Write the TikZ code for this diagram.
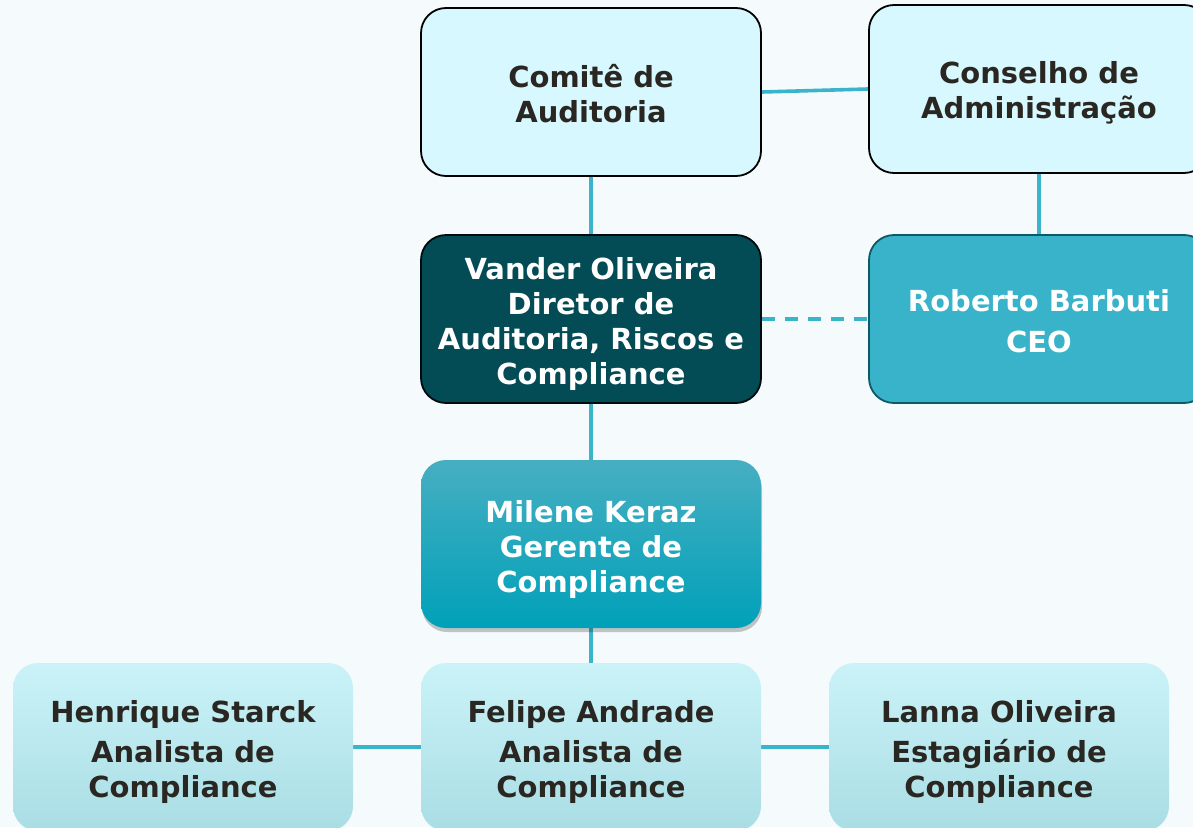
\documentclass[tikz,border=0pt]{standalone}
\usepackage{fontspec}
\setmainfont{DejaVu Sans}
\usetikzlibrary{backgrounds,shadows}
\definecolor{bgc}{HTML}{F5FBFC}
\definecolor{lightbox}{HTML}{D6F8FE}
\definecolor{darkbox}{HTML}{034B55}
\definecolor{ceobox}{HTML}{38B3C9}
\definecolor{ceoborder}{HTML}{0B5A66}
\definecolor{midtop}{HTML}{47AEC1}
\definecolor{midbot}{HTML}{00A1B9}
\definecolor{paletop}{HTML}{CAF3F8}
\definecolor{palebot}{HTML}{A9DDE4}
\definecolor{txtdark}{HTML}{2A2722}
\definecolor{linkc}{HTML}{3AB4CA}
\newcommand{\lift}[1]{\rule{0pt}{#1}}
\tikzset{
  box/.style={rounded corners=25pt, minimum width=340pt, minimum height=168pt,
    align=center, font=\fontsize{29}{35}\selectfont\bfseries, inner sep=0pt},
  topbox/.style={box, fill=lightbox, draw=black, line width=1.8pt, text=txtdark},
  dirbox/.style={box, fill=darkbox, draw=black!85!darkbox, line width=1.8pt, text=white},
  ceo/.style={box, fill=ceobox, draw=ceoborder, line width=1.8pt, text=white},
  mgr/.style={box, top color=midtop, bottom color=midbot, text=white,
    drop shadow={shadow xshift=1pt, shadow yshift=-4pt, opacity=0.22, fill=black}},
  staff/.style={box, top color=paletop, bottom color=palebot, text=txtdark},
  link/.style={draw=linkc, line width=3.6pt},
  dlink/.style={link, dash pattern=on 13pt off 10pt}
}
\begin{document}
\begin{tikzpicture}[x=1pt, y=-1pt]
\useasboundingbox (0,0) rectangle (1193,827);
\node[topbox] (com) at (591,92) {\lift{26pt}Comitê de\\Auditoria};
\node[topbox] (con) at (1039,89) {\lift{30pt}Conselho de\\Administração};
\node[dirbox] (dir) at (591,319) {\lift{32pt}Vander Oliveira\\Diretor de\\Auditoria, Riscos e\\Compliance};
\node[ceo] (ceo) at (1039,319) {\lift{26pt}Roberto Barbuti\\[6pt]CEO};
\node[mgr] (mgr) at (591,544) {\lift{33pt}Milene Keraz\\Gerente de\\Compliance};
\node[staff] (hen) at (183,747) {\lift{32pt}Henrique Starck\\[5pt]Analista de\\Compliance};
\node[staff] (fel) at (591,747) {\lift{32pt}Felipe Andrade\\[5pt]Analista de\\Compliance};
\node[staff] (lan) at (999,747) {\lift{32pt}Lanna Oliveira\\[5pt]Estagiário de\\Compliance};
\begin{scope}[on background layer]
\fill[bgc] (0,0) rectangle (1193,827);
\draw[link] (com.east) -- (con.west);
\draw[link] (com.south) -- (dir.north);
\draw[link] (con.south) -- (ceo.north);
\draw[dlink] (dir.east) -- (ceo.west);
\draw[link] (dir.south) -- (mgr.north);
\draw[link] (mgr.south) -- (fel.north);
\draw[link] (hen.east) -- (fel.west);
\draw[link] (fel.east) -- (lan.west);
\end{scope}
\end{tikzpicture}
\end{document}
